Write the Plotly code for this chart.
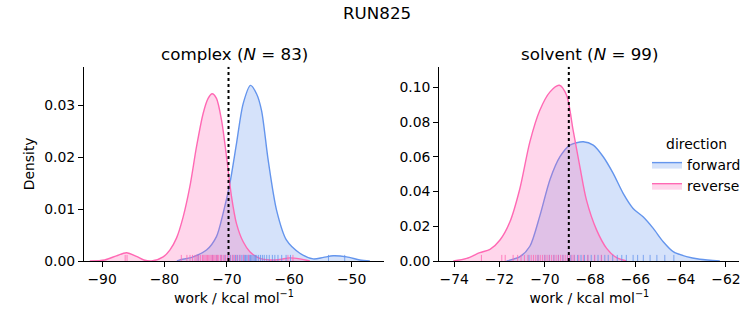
import plotly.graph_objects as go

# ---------------- data ----------------
# complex phase: KDE curves
cx_fwd_x = [-78.0, -77.54, -75.4, -73.26, -71.66, -70.59, -69.52, -68.45, -67.38, -66.2, -65.24, -64.44,
            -63.37, -62.03, -60.43, -58.29, -56.15, -54.5, -52.95, -50.8, -48.67, -47.07]
cx_fwd_y = [0.0, 0.0002, 0.0008, 0.0021, 0.0047, 0.0092, 0.0149, 0.0226, 0.0303, 0.0338, 0.0322, 0.029,
            0.0194, 0.0098, 0.004, 0.0015, 0.0004, 0.0007, 0.001, 0.0008, 0.0002, 0.0]
cx_rev_x = [-91.97, -89.57, -87.7, -86.09, -84.49, -83.3, -82.08, -80.21, -79.14, -78.07, -77.0, -75.93,
            -74.86, -73.8, -73.0, -72.35, -71.66, -70.85, -70.05, -69.25, -68.45, -67.38, -66.31, -64.71,
            -63.1, -61.5, -59.9, -58.3, -56.7]
cx_rev_y = [0.0, 0.0002, 0.001, 0.0016, 0.0009, 0.0002, 0.0, 0.0008, 0.0021, 0.0044, 0.0085, 0.0143,
            0.022, 0.0284, 0.0313, 0.0322, 0.0313, 0.0271, 0.0201, 0.0124, 0.0072, 0.0037, 0.0018, 0.0005,
            0.0002, 0.0003, 0.0006, 0.0004, 0.0]
cx_fwd_rug = [-74.6, -72.3, -71.6, -70.9, -70.3, -69.8, -69.4, -69.0, -68.6, -68.3, -68.0, -67.7, -67.4,
              -67.2, -67.0, -66.8, -66.6, -66.4, -66.2, -66.0, -65.8, -65.6, -65.4, -65.2, -64.9, -64.6,
              -64.3, -64.0, -63.6, -63.2, -62.7, -62.3, -61.8, -61.2, -60.5, -59.8, -53.7, -51.1]
cx_rev_rug = [-86.3, -86.0, -77.3, -76.4, -75.9, -75.5, -75.1, -74.8, -74.5, -74.2, -73.9, -73.7, -73.5,
              -73.3, -73.1, -72.9, -72.7, -72.5, -72.3, -72.1, -71.9, -71.7, -71.5, -71.3, -71.0, -70.8,
              -70.5, -70.2, -69.9, -69.5, -69.1, -68.8, -68.4, -67.9, -67.3, -66.5, -60.2, -59.4]
cx_dg = -69.73

# solvent phase: KDE curves
sv_fwd_x = [-71.69, -71.1, -70.66, -70.22, -69.77, -69.33, -68.89, -68.3, -67.86, -67.42, -66.98, -66.54,
            -66.1, -65.66, -65.21, -64.77, -64.33, -63.74, -63.15, -62.27]
sv_fwd_y = [0.0, 0.0025, 0.0085, 0.026, 0.047, 0.0601, 0.0668, 0.0687, 0.0668, 0.0601, 0.0505, 0.039,
            0.0303, 0.0255, 0.0188, 0.0111, 0.0054, 0.0025, 0.001, 0.0]
sv_rev_x = [-74.04, -73.45, -72.87, -72.42, -71.98, -71.54, -71.1, -70.66, -70.22, -69.77, -69.36, -69.04,
            -68.75, -68.45, -68.16, -67.71, -67.27, -66.83, -66.39]
sv_rev_y = [0.0, 0.0015, 0.0048, 0.0067, 0.0121, 0.0226, 0.0418, 0.0687, 0.0869, 0.0975, 0.1013, 0.0956,
            0.0754, 0.0543, 0.0351, 0.0178, 0.0073, 0.0019, 0.0]
sv_fwd_rug = [-70.7, -70.3, -70.0, -69.8, -69.6, -69.4, -69.2, -69.0, -68.85, -68.7, -68.55, -68.4, -68.25,
              -68.1, -67.95, -67.8, -67.65, -67.5, -67.35, -67.2, -67.0, -66.8, -66.6, -66.4, -66.1, -65.9,
              -65.65, -65.35, -65.05, -64.7, -64.3]
sv_rev_rug = [-72.8, -71.9, -71.75, -71.4, -71.2, -71.05, -70.9, -70.75, -70.6, -70.5, -70.4, -70.3, -70.2,
              -70.1, -70.0, -69.9, -69.8, -69.7, -69.6, -69.5, -69.4, -69.3, -69.2, -69.1, -69.0, -68.9,
              -68.8, -68.7, -68.5, -68.3, -68.1, -67.8, -67.5]
sv_dg = -68.94

titles = ["complex (<i>N</i> = 83)", "solvent (<i>N</i> = 99)"]
suptitle = "RUN825"
xlabel = "work / kcal mol<sup>−1</sup>"
ylabel = "Density"
series_names = ["forward", "reverse"]

# ---------------- style ----------------
BLUE = "#6495ED"
PINK = "#FF69B4"
BLUE_F = "rgba(100,149,237,0.27)"
PINK_F = "rgba(255,105,180,0.27)"
FONT = "DejaVu Sans"

W, H = 753, 325
PLOT_H = 261 - 66.7

fig = go.Figure()

panels = [
    dict(xa="x", ya="y", fwd=(cx_fwd_x, cx_fwd_y), rev=(cx_rev_x, cx_rev_y),
         frug=cx_fwd_rug, rrug=cx_rev_rug, dg=cx_dg, ymax=0.0374, legend=False),
    dict(xa="x2", ya="y2", fwd=(sv_fwd_x, sv_fwd_y), rev=(sv_rev_x, sv_rev_y),
         frug=sv_fwd_rug, rrug=sv_rev_rug, dg=sv_dg, ymax=0.112, legend=True),
]

for p in panels:
    for (xs, ys), name, lc, fc in [(p["fwd"], series_names[0], BLUE, BLUE_F),
                                   (p["rev"], series_names[1], PINK, PINK_F)]:
        fig.add_trace(go.Scatter(x=xs, y=ys, mode="lines",
                                 line=dict(color=lc, width=1.4, shape="spline", smoothing=0.8),
                                 fill="tozeroy", fillcolor=fc, name=name, showlegend=p["legend"],
                                 xaxis=p["xa"], yaxis=p["ya"], hoverinfo="skip"))
    rug_y = p["ymax"] * 2.6 / PLOT_H
    for rug, lc in [(p["frug"], BLUE), (p["rrug"], PINK)]:
        fig.add_trace(go.Scatter(x=rug, y=[rug_y] * len(rug), mode="markers",
                                 marker=dict(symbol="line-ns", size=5, line=dict(color=lc, width=1)),
                                 opacity=0.8, showlegend=False, xaxis=p["xa"], yaxis=p["ya"],
                                 hoverinfo="skip"))
    fig.add_trace(go.Scatter(x=[p["dg"], p["dg"]], y=[0, p["ymax"]], mode="lines",
                             line=dict(color="black", width=2, dash="dot"), showlegend=False,
                             xaxis=p["xa"], yaxis=p["ya"], hoverinfo="skip"))

ydom = [(325 - 261) / H, (325 - 66.7) / H]
axis_common = dict(showline=True, linecolor="black", linewidth=1.1, ticks="outside", ticklen=5,
                   tickwidth=1.1, tickcolor="black", showgrid=False, zeroline=False, automargin=False,
                   tickfont=dict(family=FONT, size=13.9, color="black"), mirror=False)

fig.update_layout(
    width=W, height=H, margin=dict(l=0, r=0, t=0, b=0, autoexpand=False),
    paper_bgcolor="white", plot_bgcolor="white",
    font=dict(family=FONT, color="black"),
    xaxis=dict(domain=[84 / W, 384 / W], range=[-92.9, -44.8], dtick=10, tick0=0,
               title=dict(text=xlabel, font=dict(size=13.9), standoff=7), anchor="y", **axis_common),
    yaxis=dict(domain=ydom, range=[0, 0.0374], dtick=0.01, tickformat=".2f",
               title=dict(text=ylabel, font=dict(size=13.9), standoff=6), anchor="x", **axis_common),
    xaxis2=dict(domain=[439.3 / W, 739.3 / W], range=[-74.66, -61.41], dtick=2, tick0=0,
                title=dict(text=xlabel, font=dict(size=13.9), standoff=7), anchor="y2", **axis_common),
    yaxis2=dict(domain=ydom, range=[0, 0.112], dtick=0.02, tickformat=".2f", anchor="x2", **axis_common),
    legend=dict(x=647 / W, xanchor="left", y=1 - 131 / H, yanchor="top", bgcolor="rgba(0,0,0,0)",
                font=dict(family=FONT, size=13.9), tracegroupgap=0,
                title=dict(text="direction", side="top center", font=dict(family=FONT, size=13.9))),
    showlegend=True,
)

fig.add_annotation(text=suptitle, x=0.5, y=1 - 13 / H, xref="paper", yref="paper", showarrow=False,
                   xanchor="center", yanchor="middle", font=dict(family=FONT, size=16.7))
for t, cx in zip(titles, [234 / W, 589.3 / W]):
    fig.add_annotation(text=t, x=cx, y=1 - 54 / H, xref="paper", yref="paper", showarrow=False,
                       xanchor="center", yanchor="middle", font=dict(family=FONT, size=16.7))

fig.write_html("out.html")
